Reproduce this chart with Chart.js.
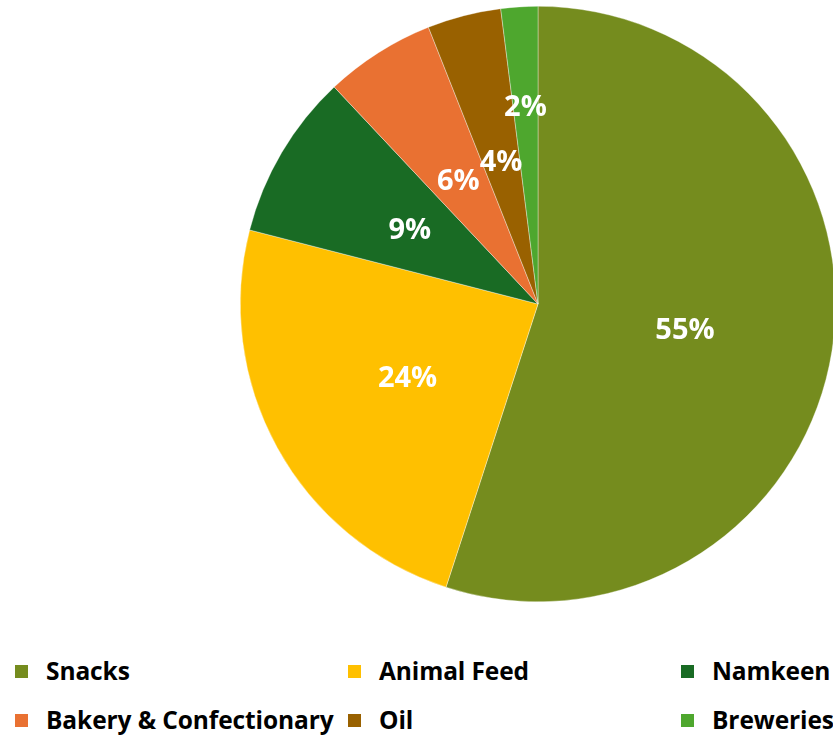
<!DOCTYPE html>
<html>
<head>
<meta charset="utf-8">
<script src="https://cdn.jsdelivr.net/npm/chart.js@4.4.1/dist/chart.umd.min.js"></script>
<style>
  html, body { margin: 0; padding: 0; background: #fff; }
  #wrap { position: relative; width: 833px; height: 740px; overflow: hidden; }
  #holder { position: absolute; left: 0; top: 0; width: 836px; height: 604px; }
  #legend { position: absolute; left: 0; top: 655px; width: 833px; font-family: 'Open Sans', sans-serif; font-weight: 700; font-size: 24.5px; color: #000; }
  .item { position: absolute; white-space: nowrap; letter-spacing: -0.1px; line-height: 32px; }
  .sw { display: inline-block; width: 13px; height: 13px; margin-right: 18px; vertical-align: 2px; }
</style>
</head>
<body>
<div id="wrap">
  <div id="holder"><canvas id="grafico"></canvas></div>
  <div id="legend"></div>
</div>
<script>
'use strict';

const categorie = ['Snacks', 'Animal Feed', 'Namkeen', 'Bakery & Confectionary', 'Oil', 'Breweries'];
const quote = [55, 24, 9, 6, 4, 2];
const colori = ['#758C1E', '#FFC000', '#196B24', '#E97132', '#996100', '#4EA72E'];

// Etichette percentuali bianche dentro le fette
const etichette = {
  id: 'etichette',
  afterDatasetsDraw(chart) {
    const ctx = chart.ctx;
    const meta = chart.getDatasetMeta(0);
    ctx.save();
    ctx.fillStyle = '#fff';
    ctx.font = "bold 29px 'Open Sans', sans-serif";
    ctx.textAlign = 'center';
    ctx.textBaseline = 'middle';
    meta.data.forEach((arc, i) => {
      const mid = (arc.startAngle + arc.endAngle) / 2;
      const f = i === meta.data.length - 1 ? 0.67 : 0.5; // la fetta più piccola va più in fuori
      const r = arc.outerRadius * f;
      ctx.fillText(quote[i] + '%', arc.x + Math.cos(mid) * r, arc.y + Math.sin(mid) * r + 3);
    });
    ctx.restore();
  }
};

new Chart(document.getElementById('grafico').getContext('2d'), {
  type: 'pie',
  data: {
    labels: categorie,
    datasets: [{
      data: quote,
      backgroundColor: colori,
      borderColor: 'rgba(255,255,255,0.6)',
      borderWidth: 0.6
    }]
  },
  options: {
    responsive: true,
    maintainAspectRatio: false,
    animation: false,
    layout: { padding: { left: 240, right: 0, top: 6, bottom: 2 } },
    plugins: { legend: { display: false }, tooltip: { enabled: false } }
  },
  plugins: [etichette]
});

// Legenda HTML a tre colonne
const colX = [15, 348, 681];
const rowY = [0, 49];
const leg = document.getElementById('legend');
categorie.forEach((c, i) => {
  const d = document.createElement('div');
  d.className = 'item';
  d.style.left = colX[i % 3] + 'px';
  d.style.top = rowY[Math.floor(i / 3)] + 'px';
  d.innerHTML = '<span class="sw" style="background:' + colori[i] + '"></span>' + c;
  leg.appendChild(d);
});
</script>
</body>
</html>
